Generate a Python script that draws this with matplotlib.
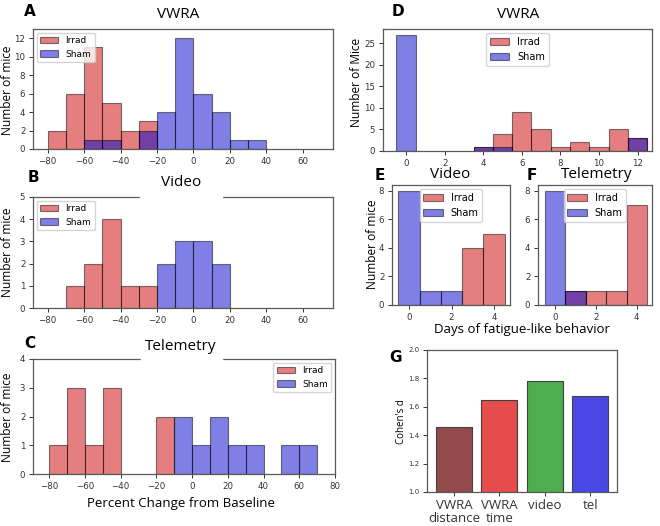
import matplotlib
matplotlib.use('Agg')
import matplotlib.pyplot as plt
import numpy as np
from matplotlib.patches import Rectangle

# percent change histograms, left edges of 10% bins
pct_edges = np.arange(-80, 80, 10)

vwra_irrad = [2, 6, 11, 5, 2, 3, 0, 0, 0, 0, 0, 0, 0, 0, 0, 0]
vwra_sham = [0, 0, 1, 1, 0, 2, 4, 12, 6, 4, 1, 1, 0, 0, 0, 0]
video_irrad = [0, 1, 2, 4, 1, 1, 0, 0, 0, 0, 0, 0, 0, 0, 0, 0]
video_sham = [0, 0, 0, 0, 0, 0, 2, 3, 3, 2, 0, 0, 0, 0, 0, 0]
tel_irrad = [1, 3, 1, 3, 0, 0, 2, 0, 0, 0, 0, 0, 0, 0, 0, 0]
tel_sham = [0, 0, 0, 0, 0, 0, 0, 2, 1, 2, 1, 1, 0, 1, 1, 0]

# days of fatigue-like behaviour
days_vwra = np.arange(0, 13)
days_vwra_irrad = [0, 0, 0, 0, 1, 4, 9, 5, 1, 2, 1, 5, 3]
days_vwra_sham = [27, 0, 0, 0, 1, 1, 0, 0, 0, 0, 0, 0, 3]
days_short = np.arange(0, 5)
days_video_irrad = [0, 0, 0, 4, 5]
days_video_sham = [8, 1, 1, 0, 0]
days_tel_irrad = [0, 1, 1, 1, 7]
days_tel_sham = [8, 1, 0, 0, 0]

# effect sizes
effect_labels = ['VWRA\ndistance', 'VWRA\ntime', 'video', 'tel']
effect_values = [1.46, 1.645, 1.785, 1.675]
effect_colors = ['#944a4a', '#e64c4c', '#4cae4c', '#4848e4']

irrad_col = (0.8, 0.0, 0.0, 0.5)
sham_col = (0.0, 0.0, 0.8, 0.5)
edge_col = (0.0, 0.0, 0.0, 0.5)

title_font = 'Open Sans'
W, H = 660, 526


def box(x0, y0, x1, y1):
    return [x0 / W, 1 - y1 / H, (x1 - x0) / W, (y1 - y0) / H]


def put(x, y, txt, **kw):
    return fig.text(x / W, 1 - y / H, txt, ha='center', va='center', **kw)


def hbars(ax, left, counts, width, align, face):
    left = np.asarray(left)
    counts = np.asarray(counts)
    m = counts > 0
    return ax.bar(left[m], counts[m], width=width, align=align,
                  color=[face], edgecolor=edge_col, linewidth=0.8)


def pair(ax, left, irr, sham, width, align):
    b1 = hbars(ax, left, irr, width, align, irrad_col)
    b2 = hbars(ax, left, sham, width, align, sham_col)
    b1.set_label('Irrad')
    b2.set_label('Sham')


def style(ax):
    ax.tick_params(labelsize=6.2, length=3, width=0.7, colors='0.2', pad=2.5)
    for s in ax.spines.values():
        s.set_linewidth(0.9)
        s.set_color('0.35')


fig = plt.figure(figsize=(6.6, 5.26), dpi=100)

# A
axA = fig.add_axes(box(33, 29, 333, 149))
pair(axA, pct_edges, vwra_irrad, vwra_sham, 10, 'edge')
axA.set_xlim(-88, 76.5)
axA.set_ylim(0, 13)
axA.set_yticks(range(0, 13, 2))
axA.set_xticks(range(-80, 61, 20))
axA.legend(loc='upper left', fontsize=6.5, borderaxespad=0.4)

# B
axB = fig.add_axes(box(33, 197, 333, 308))
pair(axB, pct_edges, video_irrad, video_sham, 10, 'edge')
axB.set_xlim(-88, 76.5)
axB.set_ylim(0, 5)
axB.set_xticks(range(-80, 61, 20))
axB.legend(loc='upper left', fontsize=6.5, borderaxespad=0.4)

# C
axC = fig.add_axes(box(33, 359, 335, 474))
pair(axC, pct_edges, tel_irrad, tel_sham, 10, 'edge')
axC.set_xlim(-89, 80)
axC.set_ylim(0, 4)
axC.set_xticks(range(-80, 81, 20))
axC.legend(loc='upper right', fontsize=6.5, borderaxespad=0.4)

# D
axD = fig.add_axes(box(383, 29, 652, 151))
pair(axD, days_vwra, days_vwra_irrad, days_vwra_sham, 1, 'center')
axD.set_xlim(-1.2, 12.75)
axD.set_ylim(0, 28.35)
axD.set_xticks(range(0, 13, 2))
axD.legend(loc='upper center', fontsize=7, borderaxespad=0.4)

# E
axE = fig.add_axes(box(392, 185, 510, 305))
pair(axE, days_short, days_video_irrad, days_video_sham, 1, 'center')
axE.set_xlim(-0.8, 4.75)
axE.set_ylim(0, 8.4)
axE.set_xticks([0, 2, 4])
axE.legend(loc='upper center', fontsize=7, borderaxespad=0.4)

# F
axF = fig.add_axes(box(538, 185, 652, 305))
pair(axF, days_short, days_tel_irrad, days_tel_sham, 1, 'center')
axF.set_xlim(-0.85, 4.75)
axF.set_ylim(0, 8.4)
axF.set_xticks([0, 2, 4])
axF.legend(loc='upper center', fontsize=7, borderaxespad=0.4)

# G
axG = fig.add_axes(box(427, 350, 617, 492))
xg = np.arange(len(effect_values))
axG.bar(xg, effect_values, width=0.8, color=effect_colors,
        edgecolor='0.25', linewidth=0.8)
axG.set_ylim(1.0, 2.0)
axG.set_xticks(xg)
axG.set_xticklabels(effect_labels, linespacing=1.05)

for ax in [axA, axB, axC, axD, axE, axF, axG]:
    style(ax)
axG.tick_params(axis='y', labelsize=5)
axG.tick_params(axis='x', labelsize=9.5, length=3, pad=2)
for t in axG.get_xticklabels():
    t.set_family(title_font)

# white gaps behind the titles of B and C
fig.patches.append(Rectangle((140 / W, 1 - 200 / H), 82 / W, 8 / H,
                             transform=fig.transFigure, color='white', zorder=5))
fig.patches.append(Rectangle((141 / W, 1 - 362 / H), 81 / W, 8 / H,
                             transform=fig.transFigure, color='white', zorder=5))

titles = [('VWRA', 178, 15), ('Video', 181, 183), ('Telemetry', 181, 346),
          ('VWRA', 518, 15), ('Video', 450, 174), ('Telemetry', 597, 174)]
for txt, x, y in titles:
    put(x, y, txt, family=title_font, fontsize=11, zorder=6)

labels = [('A', 30, 12), ('B', 33, 178), ('C', 30, 343), ('D', 398, 12),
          ('E', 380, 175), ('F', 532, 175), ('G', 395, 357)]
for txt, x, y in labels:
    put(x, y, txt, fontsize=11, fontweight='bold')

ylabels = [('Number of mice', 8, 90), ('Number of mice', 8, 252),
           ('Number of mice', 8, 417), ('Number of Mice', 357, 82),
           ('Number of mice', 372, 244)]
for txt, x, y in ylabels:
    put(x, y, txt, family=title_font, fontsize=8.6, rotation=90)
put(402, 422, "Cohen's d", family=title_font, fontsize=7, rotation=90)

put(181, 503, 'Percent Change from Baseline', family=title_font, fontsize=9.5)
put(522, 329, 'Days of fatigue-like behavior', family=title_font, fontsize=9.5)

fig.savefig('out.png', dpi=100)
